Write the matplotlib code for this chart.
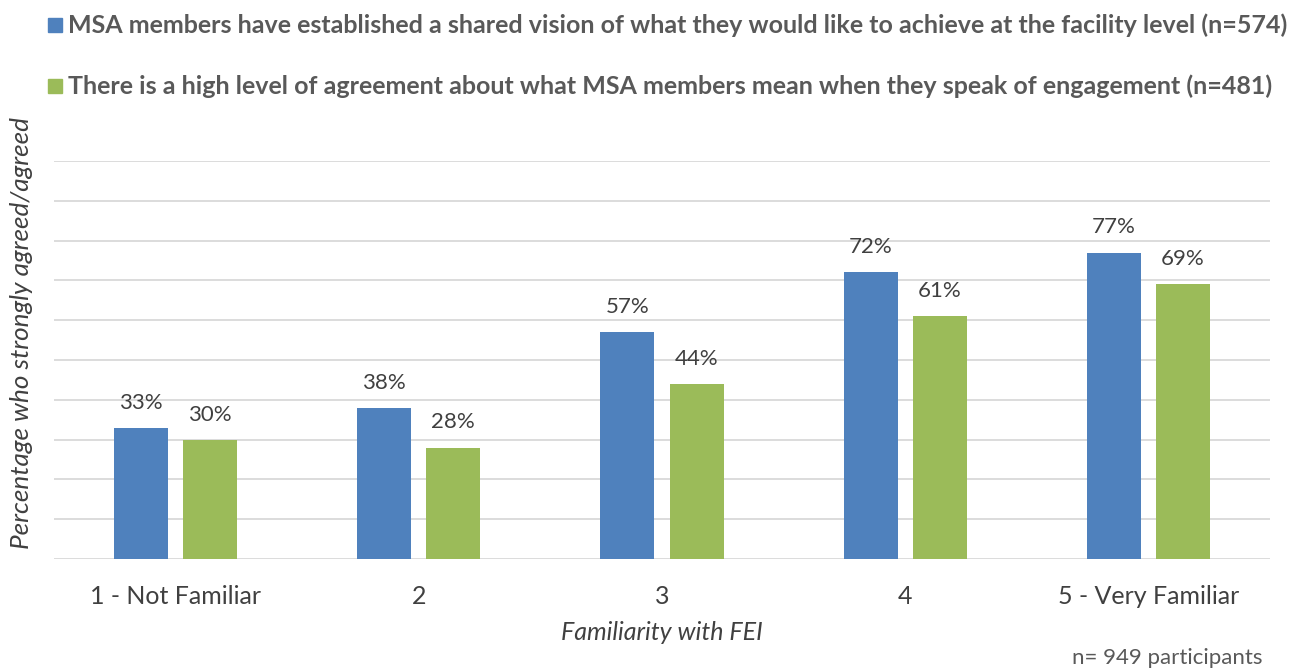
import matplotlib
matplotlib.use("Agg")
import matplotlib.pyplot as plt
import numpy as np

categories = ["1 - Not Familiar", "2", "3", "4", "5 - Very Familiar"]
series1_name = "MSA members have established a shared vision of what they would like to achieve at the facility level (n=574)"
series2_name = "There is a high level of agreement about what MSA members mean when they speak of engagement (n=481)"
series1 = [33, 38, 57, 72, 77]
series2 = [30, 28, 44, 61, 69]

plt.rcParams['font.family'] = ['Lato', 'DejaVu Sans']

fig = plt.figure(figsize=(12.96, 6.69), dpi=100)
ax = fig.add_axes([54/1296, (669-559)/669, (1270-54)/1296, (559-161)/669])

x = np.arange(len(categories))
w = 0.222
off = 0.142
c1, c2 = "#4F81BD", "#9BBB59"
b1 = ax.bar(x - off, series1, w, color=c1, zorder=3)
b2 = ax.bar(x + off, series2, w, color=c2, zorder=3)

for bars, vals in ((b1, series1), (b2, series2)):
    for r, v in zip(bars, vals):
        ax.text(r.get_x() + r.get_width()/2, v + 6.3, f"{v}%", ha="center", va="center",
                fontsize=16, color="#404040")

ax.set_xlim(-0.5, 4.5)
ax.set_ylim(0, 100)
ax.set_yticks(np.arange(0, 101, 10))
ax.set_yticklabels([])
ax.tick_params(axis='y', length=0)
ax.tick_params(axis='x', length=0, pad=19, labelsize=18, labelcolor="#404040")
ax.set_xticks(x)
ax.set_xticklabels(categories)
ax.grid(axis='y', color="#D9D9D9", linewidth=1.3, zorder=0)
for s in ax.spines.values():
    s.set_visible(False)

fig.text(662/1296, 1 - 633/669, "Familiarity with FEI", ha="center", va="center",
         fontsize=18, style="italic", color="#404040")
fig.text(22/1296, 1 - 333/669, "Percentage who strongly agreed/agreed", ha="center", va="center",
         rotation=90, fontsize=18.8, style="italic", color="#404040")
fig.text(1262/1296, 1 - 658/669, "n= 949 participants", ha="right", va="center",
         fontsize=16, color="#595959")

for yy, col, name in ((25, c1, series1_name), (86, c2, series2_name)):
    fig.patches.append(matplotlib.patches.Rectangle((48/1296, 1 - (yy+7)/669), 14/1296, 14/669,
                                                    transform=fig.transFigure, color=col))
    fig.text(68/1296, 1 - yy/669, name, ha="left", va="center", fontsize=18,
             fontweight="bold", color="#595959")

fig.savefig("out.png", dpi=100)
